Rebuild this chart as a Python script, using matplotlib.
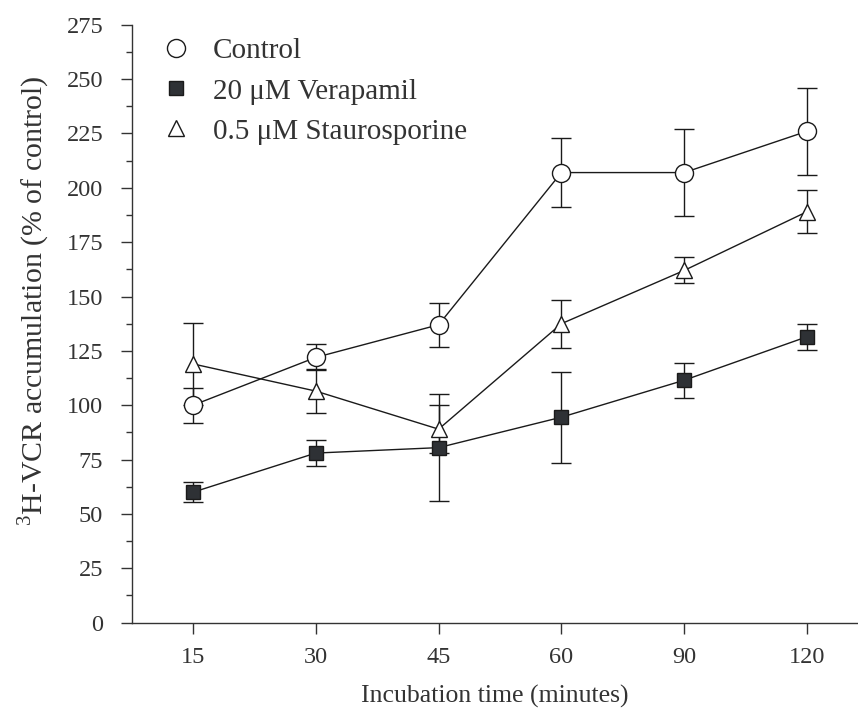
import numpy as np
import matplotlib
matplotlib.use('Agg')
import matplotlib.pyplot as plt
from matplotlib.lines import Line2D
from matplotlib.ticker import MultipleLocator

# data
times = ['15', '30', '45', '60', '90', '120']

control = [100, 122, 137, 207, 207, 226]
control_err = [8, 6, 10, 16, 20, 20]

verapamil = [60, 78, 80.5, 94.5, 111.5, 131.5]
verapamil_err = [4.5, 6, 24.5, 21, 8, 6]

stauro = [119, 106.5, 89, 137.5, 162, 189]
stauro_err = [19, 10, 11, 11, 6, 10]

labels = ['Control', '20 \u03bcM Verapamil', '0.5 \u03bcM Staurosporine']

TEXT = '#333333'
LINE = '#1a1a1a'
SQUARE = '#2e3135'

plt.rcParams['font.family'] = ['Liberation Serif', 'DejaVu Serif']
plt.rcParams['mathtext.fontset'] = 'custom'
plt.rcParams['mathtext.rm'] = 'Liberation Serif'

fig = plt.figure(figsize=(8.58, 7.10), dpi=100)
ax = fig.add_axes([0.1538, 0.123, 1.0 - 0.1538, 0.9652 - 0.123])

x = np.arange(len(times))

series = [
    (control, control_err, dict(marker='o', markersize=13, markerfacecolor='white')),
    (verapamil, verapamil_err, dict(marker='s', markersize=10, markerfacecolor=SQUARE)),
    (stauro, stauro_err, dict(marker='^', markersize=12, markerfacecolor='white')),
]

for vals, errs, style in series:
    ax.errorbar(x, vals, yerr=errs, color=LINE, ecolor=LINE, elinewidth=1.0,
                capsize=7.5, capthick=1.0, linewidth=1.0, zorder=3,
                markeredgecolor=LINE, markeredgewidth=1.0, **style)

ax.set_xlim(-0.497, 5.415)
ax.set_ylim(0, 275)
ax.set_xticks(x)
ax.set_xticklabels(times)
ax.yaxis.set_major_locator(MultipleLocator(25))
ax.yaxis.set_minor_locator(MultipleLocator(12.5))

for side in ('top', 'right'):
    ax.spines[side].set_visible(False)
for side in ('left', 'bottom'):
    ax.spines[side].set_color(TEXT)
    ax.spines[side].set_linewidth(1.0)

ax.tick_params(axis='both', which='major', direction='out', length=7.7,
               width=1.0, colors=TEXT, labelsize=17.5)
ax.tick_params(axis='y', which='minor', direction='out', length=4.5,
               width=1.0, colors=TEXT)
ax.tick_params(axis='y', which='major', pad=13)
ax.tick_params(axis='x', pad=10)

ax.set_xlabel('Incubation time (minutes)', fontsize=18.5, color=TEXT, labelpad=12)
ax.set_ylabel(r'$^{3}$H-VCR accumulation (% of control)', fontsize=21.5,
              color=TEXT)
ax.yaxis.set_label_coords(-0.110, 0.538)

handles = [Line2D([], [], linestyle='none', color=LINE, markeredgecolor=LINE,
                  markeredgewidth=1.0, **style) for _, _, style in series]
leg = ax.legend(handles, labels, loc='upper left', bbox_to_anchor=(0.021, 1.007),
                frameon=False, fontsize=21, handlelength=0.8, handletextpad=0.85,
                labelspacing=0.47, borderaxespad=0.2)
for t in leg.get_texts():
    t.set_color(TEXT)

fig.savefig('out.png', dpi=100)
